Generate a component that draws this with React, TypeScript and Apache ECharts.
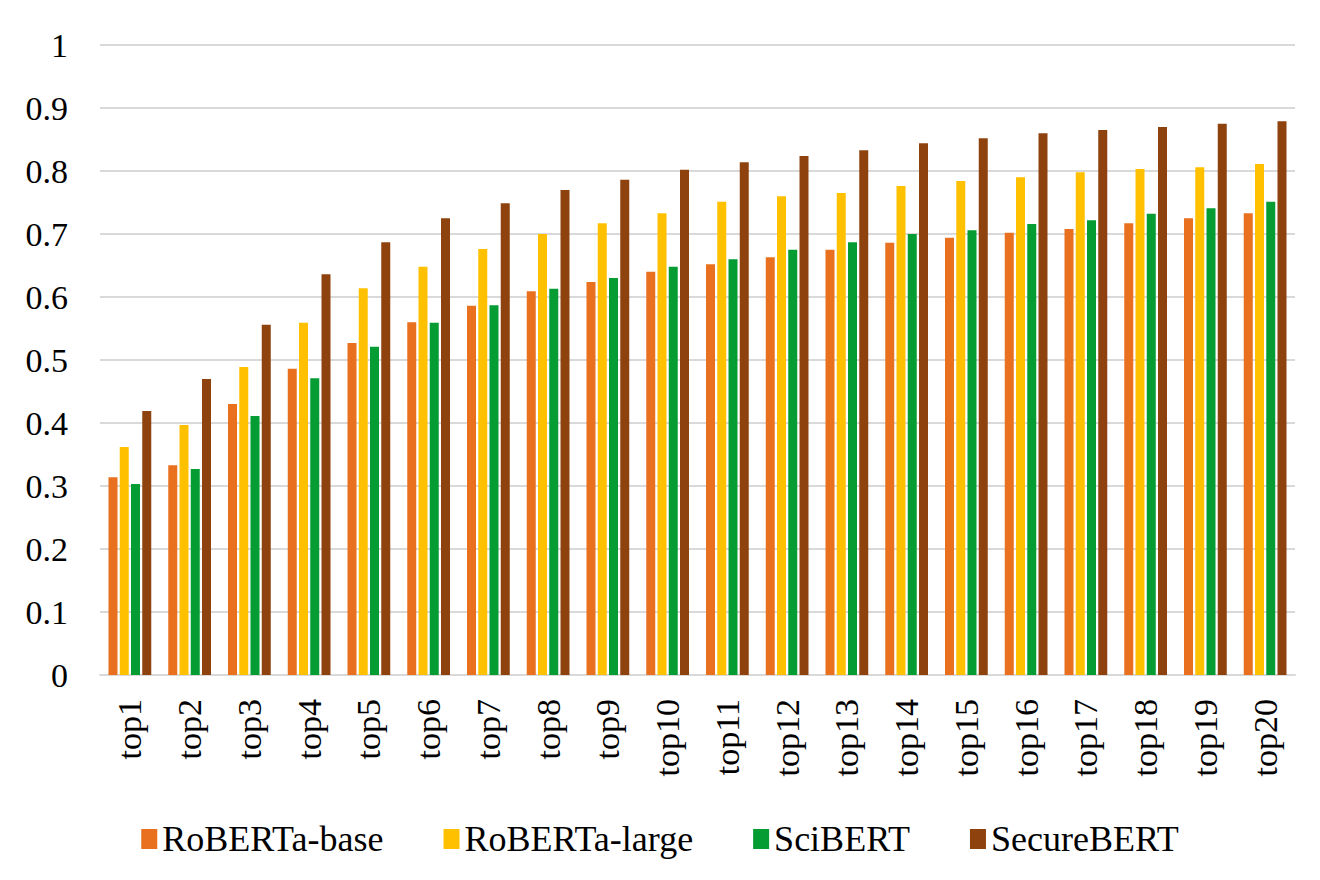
import React, { useEffect, useRef } from "react";
import * as echarts from "echarts";

const categories = ["top1","top2","top3","top4","top5","top6","top7","top8","top9","top10","top11","top12","top13","top14","top15","top16","top17","top18","top19","top20"];
const robertaBase = [0.314,0.333,0.430,0.486,0.527,0.560,0.586,0.609,0.624,0.640,0.652,0.663,0.675,0.686,0.694,0.702,0.708,0.717,0.725,0.733];
const robertaLarge = [0.362,0.397,0.489,0.559,0.614,0.648,0.676,0.700,0.717,0.733,0.751,0.760,0.765,0.776,0.784,0.790,0.798,0.803,0.806,0.811];
const sciBert = [0.303,0.327,0.411,0.471,0.521,0.559,0.587,0.613,0.630,0.648,0.660,0.675,0.687,0.700,0.706,0.716,0.722,0.732,0.741,0.751];
const secureBert = [0.419,0.470,0.556,0.636,0.687,0.725,0.749,0.770,0.786,0.802,0.814,0.824,0.833,0.844,0.852,0.860,0.865,0.870,0.875,0.879];
const yTicks = { min: 0, max: 1, interval: 0.1 };

const FONT = "'Liberation Serif', 'DejaVu Serif', serif";

export default function App() {
  const ref = useRef<HTMLDivElement>(null);
  useEffect(() => {
    if (!ref.current) return;
    const chart = echarts.init(ref.current, undefined, { renderer: "svg" });
    const mk = (name: string, data: number[], color: string) => ({
      name, type: "bar", data, barWidth: 9, barGap: "25%",
      itemStyle: { color },
    });
    chart.setOption({
      animation: false,
      textStyle: { fontFamily: FONT },
      grid: { left: 92, right: 17, top: 37, bottom: 197 },
      legend: {
        top: 808, left: "center", itemGap: 60, itemWidth: 16, itemHeight: 20,
        icon: "rect",
        textStyle: { fontFamily: FONT, fontSize: 36, color: "#000" },
        data: ["RoBERTa-base", "RoBERTa-large", "SciBERT", "SecureBERT"],
      },
      xAxis: {
        type: "category", data: categories,
        axisLine: { lineStyle: { color: "#d9d9d9", width: 2 } },
        axisTick: { show: false },
        axisLabel: { rotate: 90, fontFamily: FONT, fontSize: 34, color: "#000", margin: 24, interval: 0 },
      },
      yAxis: {
        type: "value", min: yTicks.min, max: yTicks.max, interval: yTicks.interval,
        axisLine: { show: false }, axisTick: { show: false },
        axisLabel: { fontFamily: FONT, fontSize: 34, color: "#000", margin: 32,
          formatter: (v: number) => (Math.round(v * 10) / 10).toString() },
        splitLine: { lineStyle: { color: "#d9d9d9", width: 2 } },
      },
      series: [
        mk("RoBERTa-base", robertaBase, "#E8701E"),
        mk("RoBERTa-large", robertaLarge, "#FFC000"),
        mk("SciBERT", sciBert, "#049C33"),
        mk("SecureBERT", secureBert, "#8E420E"),
      ],
    });
    return () => chart.dispose();
  }, []);
  return <div ref={ref} style={{ width: 1304, height: 864 }} />;
}
